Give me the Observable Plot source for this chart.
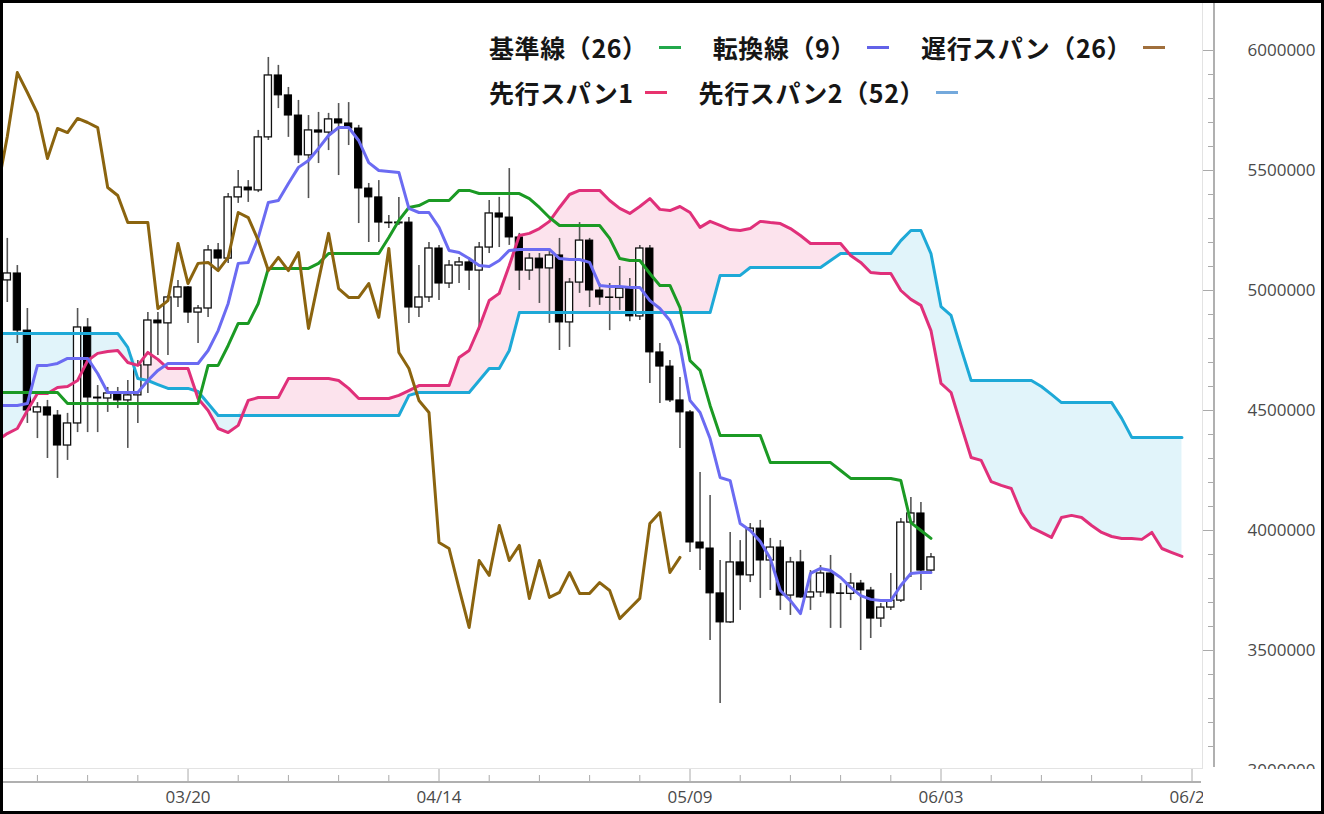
<!DOCTYPE html>
<html><head><meta charset="utf-8">
<script src="https://cdn.jsdelivr.net/npm/d3@7"></script>
<script src="https://cdn.jsdelivr.net/npm/@observablehq/plot@0.6"></script>
<style>
html,body{margin:0;padding:0;background:#fff;}
#wrap{position:relative;width:1324px;height:814px;overflow:hidden;background:#fff;}
#chart{position:absolute;left:0;top:0;}
.deco{position:absolute;}
#legend{position:absolute;left:489px;top:30px;font-family:"Noto Sans CJK JP",sans-serif;font-weight:700;font-size:25px;letter-spacing:0.6px;color:#161616;}
.row{display:flex;align-items:center;height:34px;margin-bottom:11px;white-space:nowrap;}
.sw{display:inline-block;width:22px;height:3px;margin-left:11px;margin-right:32px;}
#border{position:absolute;left:0;top:0;width:1324px;height:814px;border:3px solid #000;box-sizing:border-box;pointer-events:none;}
</style></head><body>
<div id="wrap">
  <div id="chart"></div>
  <div class="deco" style="left:0;top:768px;width:1203px;height:1px;background:#e3e3e3"></div>
  <div class="deco" style="left:1202px;top:0;width:1px;height:769px;background:#e3e3e3"></div>
  <div class="deco" style="left:0;top:781px;width:1201px;height:2px;background:#b0b0b0"></div>
  <div class="deco" style="left:1213px;top:0;width:2px;height:767px;background:#b0b0b0"></div>
  <div class="deco" style="left:1203px;top:769px;width:121px;height:45px;background:#fff"></div>
  <div id="legend"></div>
  <div id="border"></div>
</div>
<script>
// ---- data (JPY) ----
const candleStart = "2022-03-02";   // first candle
const lineStart = "2022-03-01";     // first point of every indicator line

const opens = [5042000,5071000,4833000,4492000,4513000,4479000,4354000,4446000,4846000,4554000,4550000,4571000,4542000,4563000,4688000,4875000,4863000,4971000,
5013000,4908000,4925000,5167000,5133000,5388000,5429000,5417000,5638000,5896000,
5813000,5729000,5563000,5667000,5658000,5713000,5696000,5675000,5425000,5388000,
5283000,5280000,5283000,4929000,4971000,5175000,5029000,5104000,5117000,5083000,
5179000,5321000,5304000,5221000,5083000,5133000,5092000,5146000,4867000,5033000,
5208000,5000000,4971000,4969000,5008000,4892000,5175000,4742000,4683000,4542000,
4492000,3950000,3925000,3738000,3617000,3867000,3813000,4008000,3875000,3929000,
3729000,3867000,3721000,3742000,3821000,3738000,3736000,3779000,3750000,3633000,
3679000,3708000,4033000,4071000,3833000];
const highs = [5217000,5104000,4925000,4533000,4542000,4500000,4488000,4925000,4883000,4604000,4596000,4596000,4625000,4708000,4908000,4908000,4979000,5042000,
5017000,4938000,5188000,5196000,5404000,5500000,5458000,5667000,5971000,5938000,
5846000,5792000,5729000,5742000,5738000,5779000,5783000,5688000,5446000,5458000,
5313000,5388000,5304000,5104000,5200000,5188000,5125000,5138000,5138000,5200000,
5375000,5388000,5508000,5238000,5154000,5154000,5167000,5217000,5050000,5283000,
5217000,5029000,5029000,5100000,5050000,5188000,5188000,4779000,4708000,4638000,
4500000,4242000,4146000,3875000,3992000,3958000,4029000,4042000,3967000,3958000,
3888000,3917000,3833000,3854000,3896000,3779000,3821000,3792000,3763000,3696000,
3821000,4050000,4138000,4117000,3904000];
const lows = [4950000,4779000,4446000,4383000,4300000,4217000,4292000,4408000,4408000,4408000,4492000,4508000,4342000,4446000,4571000,4729000,4729000,4929000,
4863000,4779000,4888000,5083000,5113000,5363000,5367000,5408000,5625000,5758000,
5638000,5529000,5383000,5529000,5583000,5479000,5604000,5279000,5200000,5200000,
5258000,5271000,4863000,4888000,4950000,4958000,5008000,5029000,5000000,4833000,
5154000,5179000,5188000,5000000,5042000,4946000,4863000,4750000,4763000,4988000,
4929000,4938000,4833000,4917000,4870000,4875000,4613000,4529000,4533000,4342000,
3908000,3833000,3542000,3279000,3613000,3667000,3783000,3717000,3750000,3667000,
3646000,3717000,3667000,3721000,3592000,3592000,3708000,3500000,3550000,3596000,
3667000,3700000,3804000,3750000,3825000];
const closes = [5071000,4833000,4500000,4513000,4479000,4354000,4446000,4846000,4554000,4550000,4571000,4542000,4563000,4688000,4875000,4863000,4971000,5013000,
4908000,4925000,5167000,5133000,5388000,5429000,5417000,5638000,5896000,5813000,
5729000,5563000,5667000,5658000,5713000,5696000,5675000,5425000,5388000,5283000,
5280000,5283000,4929000,4971000,5175000,5029000,5104000,5117000,5083000,5179000,
5321000,5304000,5221000,5083000,5133000,5092000,5146000,4867000,5033000,5208000,
5000000,4971000,4969000,5008000,4892000,5175000,4742000,4683000,4542000,4492000,
3950000,3925000,3738000,3617000,3867000,3813000,4008000,3875000,3929000,3729000,
3867000,3721000,3742000,3821000,3738000,3736000,3779000,3750000,3633000,3679000,
3708000,4033000,4071000,3833000,3888000];

const tenkan = [4521000,4521000,4521000,4529000,4688000,4688000,4696000,4717000,4717000,4717000,4654000,4575000,4575000,4575000,4575000,4625000,4667000,4696000,4696000,
4696000,4696000,4750000,4833000,4946000,5113000,5117000,5221000,5367000,5375000,
5446000,5513000,5542000,5592000,5646000,5679000,5679000,5625000,5533000,5500000,
5496000,5492000,5342000,5325000,5325000,5263000,5167000,5158000,5133000,5104000,
5100000,5125000,5167000,5171000,5171000,5171000,5171000,5133000,5129000,5129000,
5117000,5021000,5017000,5017000,5013000,5013000,4958000,4925000,4875000,4771000,
4542000,4492000,4383000,4221000,4208000,4029000,4000000,3954000,3883000,3750000,
3708000,3654000,3821000,3842000,3833000,3804000,3763000,3729000,3713000,3708000,
3708000,3771000,3821000,3825000,3825000];
const kijun = [4575000,4575000,4575000,4575000,4575000,4575000,4575000,
4529000,4529000,4529000,4529000,4529000,4529000,4529000,4529000,4529000,4529000,4529000,4529000,4529000,4529000,
4688000,4688000,4771000,4863000,4863000,4946000,5092000,5092000,5092000,5092000,5092000,5113000,
5154000,5154000,5154000,5154000,5154000,5154000,5221000,5292000,5346000,5354000,5375000,5375000,5375000,
5417000,5417000,5404000,5404000,5404000,5404000,5404000,5383000,5346000,5304000,
5271000,5271000,5271000,5271000,5271000,5217000,5133000,5125000,5125000,5071000,5021000,5021000,
4929000,4708000,4667000,4521000,4396000,4396000,4396000,4396000,4396000,
4283000,4283000,4283000,4283000,4283000,4283000,4283000,4250000,
4217000,4217000,4217000,4217000,4217000,4208000,4033000,4000000,3967000];
const chikou = [5417000,5642000,5908000,5825000,5738000,5550000,5675000,5658000,5717000,5700000,5679000,5429000,5396000,5283000,5283000,5283000,4925000,4958000,5196000,
5029000,5113000,5117000,5083000,5138000,5325000,5304000,5208000,5083000,5138000,
5083000,5158000,4842000,5042000,5238000,5008000,4971000,4971000,5029000,4888000,
5175000,4742000,4675000,4542000,4492000,3950000,3925000,3758000,3596000,3875000,
3813000,4021000,3875000,3938000,3717000,3875000,3721000,3742000,3825000,3738000,
3738000,3783000,3750000,3633000,3675000,3717000,4029000,4075000,3825000,3888000];
const senkouA = [4375000,4404000,4425000,4500000,4571000,4571000,4596000,4600000,4625000,4708000,4738000,4746000,4750000,4700000,4688000,4742000,4713000,4675000,4675000,
4675000,4550000,4500000,4425000,4408000,4438000,4542000,4554000,4554000,4554000,
4633000,4633000,4633000,4633000,4633000,4625000,4592000,4550000,4550000,4550000,
4550000,4563000,4583000,4604000,4604000,4604000,4604000,4721000,4750000,4846000,
4958000,4988000,5104000,5229000,5238000,5258000,5288000,5346000,5400000,5417000,
5417000,5417000,5375000,5342000,5321000,5350000,5383000,5338000,5333000,5350000,
5325000,5263000,5288000,5271000,5254000,5250000,5258000,5288000,5283000,5279000,
5258000,5229000,5196000,5196000,5196000,5196000,5146000,5117000,5075000,5071000,
5071000,5000000,4963000,4938000,4833000,4613000,4575000,4438000,4304000,4292000,
4204000,4188000,4175000,4075000,4013000,3992000,3971000,4054000,4063000,4054000,
4021000,3992000,3975000,3967000,3967000,3963000,3992000,3925000,3908000,3892000];
const senkouB = [4821000,4821000,4821000,4821000,4821000,4821000,4821000,4821000,4821000,4821000,4821000,4821000,4821000,
4763000,4633000,4625000,4608000,4592000,4592000,4592000,4579000,4529000,
4479000,4479000,4479000,4479000,4479000,4479000,4479000,4479000,4479000,4479000,
4479000,4479000,4479000,4479000,4479000,4479000,4479000,4479000,4479000,
4563000,4575000,4575000,4575000,4575000,4575000,4575000,4625000,4675000,4675000,4750000,
4908000,4908000,4908000,4908000,4908000,4908000,4908000,4908000,4908000,4908000,
4908000,4908000,4908000,4908000,4908000,4908000,4908000,4908000,4908000,4908000,
5063000,5063000,5063000,5096000,5096000,5096000,5096000,5096000,5096000,5096000,5096000,
5125000,5154000,5154000,5154000,5154000,5154000,5154000,5208000,5250000,5250000,5154000,
4933000,4896000,4758000,4625000,4625000,4625000,4625000,4625000,4625000,4625000,
4600000,4567000,4533000,4533000,4533000,4533000,4533000,4533000,4467000,
4388000,4388000,4388000,4388000,4388000,4388000];

const xMajorTicks = ["2022-03-20","2022-04-14","2022-05-09","2022-06-03","2022-06-28"];
const yMajorTicks = [3000000,3500000,4000000,4500000,5000000,5500000,6000000];
const legendItems = [
  [["基準線（26）","#22a84b"],["転換線（9）","#6262e8"],["遅行スパン（26）","#a06f3c"]],
  [["先行スパン1","#e8336e"],["先行スパン2（52）","#74a9dc"]]
];

// ---- build tables ----
const at = (s, i) => d3.utcDay.offset(new Date(s + "T00:00:00Z"), i);
const candles = closes.map((c, i) => ({date: at(candleStart, i), open: opens[i], high: highs[i], low: lows[i], close: c}));
const upC = candles.filter(d => d.close >= d.open);
const downC = candles.filter(d => d.close < d.open);
const half = 0.36 * 864e5;
const series = arr => arr.map((v, i) => ({date: at(lineStart, i), v}));
const cloud = senkouA.map((a, i) => ({date: at(lineStart, i), a, b: senkouB[i]}));

const xMajor = xMajorTicks.map(s => new Date(s + "T00:00:00Z"));
const xMinor = d3.range(-3, 20).filter(k => k % 5 !== 0).map(k => at("2022-03-20", 5 * k));
const yMinor = d3.range(31, 60).map(k => k * 100000).filter(v => v % 500000 !== 0);

const lineOpts = (stroke) => ({x: "date", y: "v", stroke, strokeWidth: 3, strokeLinejoin: "round"});

const chart = Plot.plot({
  width: 1324, height: 814,
  marginLeft: 6.8, marginRight: 132.5, marginTop: 50, marginBottom: 44,
  x: {type: "utc", domain: [new Date("2022-03-02T00:00:00Z"), new Date("2022-06-28T00:00:00Z")]},
  y: {domain: [3000000, 6000000]},
  style: {fontFamily: "'Open Sans', sans-serif", fontSize: "17px", color: "#4a4a4a", background: "transparent"},
  marks: [
    Plot.areaY(cloud, {x: "date", y1: "b", y2: d => Math.max(d.a, d.b), fill: "#fce3ed"}),
    Plot.areaY(cloud, {x: "date", y1: "a", y2: d => Math.max(d.a, d.b), fill: "#e1f4fa"}),
    Plot.ruleX(candles, {x: "date", y1: "low", y2: "high", stroke: "#555", strokeWidth: 1.6}),
    Plot.rect(downC, {x1: d => new Date(+d.date - half), x2: d => new Date(+d.date + half), y1: "open", y2: "close", fill: "#000", stroke: "#000", strokeWidth: 1}),
    Plot.rect(upC, {x1: d => new Date(+d.date - half), x2: d => new Date(+d.date + half), y1: "open", y2: "close", fill: "#fff", stroke: "#111", strokeWidth: 1.3}),
    Plot.line(series(senkouB), lineOpts("#1ea9d7")),
    Plot.line(series(senkouA), lineOpts("#e0307a")),
    Plot.line(series(kijun), lineOpts("#1b9a24")),
    Plot.line(series(tenkan), lineOpts("#6b6bf2")),
    Plot.line(series(chikou), lineOpts("#8b640f")),
    Plot.axisY({anchor: "right", ticks: yMajorTicks, tickSize: 12, dx: 10.5, tickPadding: 33, tickFormat: d => String(d), stroke: "#aaa", label: null}),
    Plot.axisY({anchor: "right", ticks: yMinor, tickSize: 7, dx: 15.5, stroke: "#aaa", fill: "none", label: null}),
    Plot.axisX({anchor: "bottom", ticks: xMajor, tickSize: 14, dy: -2, tickPadding: 8, tickFormat: d3.utcFormat("%m/%d"), stroke: "#aaa", label: null}),
    Plot.axisX({anchor: "bottom", ticks: xMinor, tickSize: 7, dy: 5, stroke: "#aaa", fill: "none", label: null})
  ]
});
document.getElementById("chart").appendChild(chart);

// legend
const lg = document.getElementById("legend");
legendItems.forEach(row => {
  const r = document.createElement("div");
  r.className = "row";
  row.forEach(([label, color]) => {
    const t = document.createElement("span");
    t.textContent = label;
    const s = document.createElement("span");
    s.className = "sw";
    s.style.background = color;
    r.appendChild(t); r.appendChild(s);
  });
  lg.appendChild(r);
});
</script>
</body></html>
